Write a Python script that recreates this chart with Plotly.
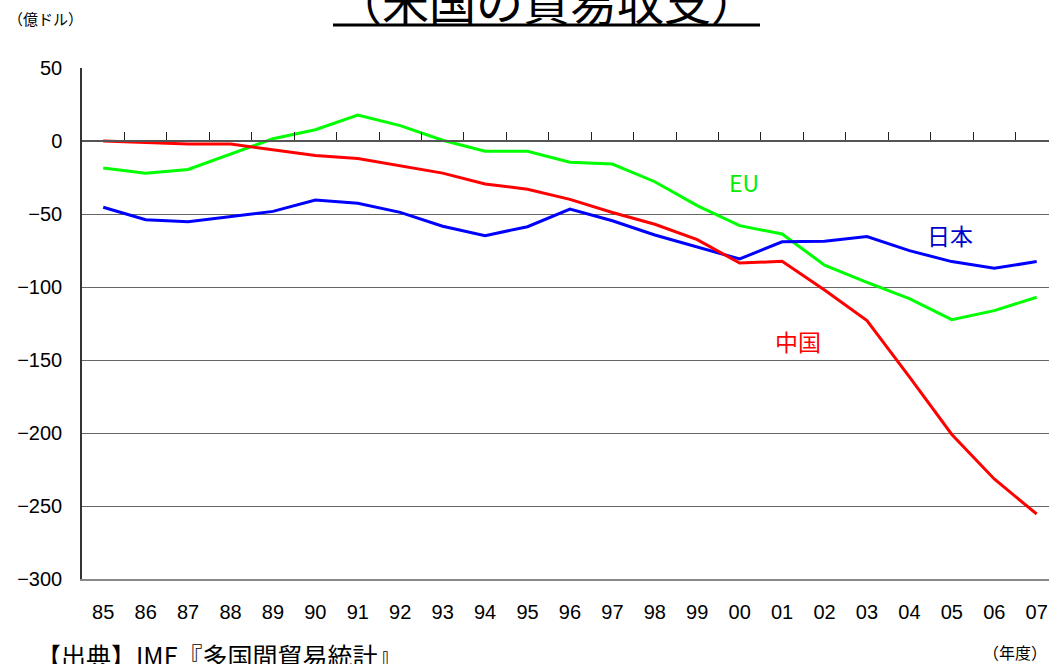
import plotly.graph_objects as go

years = ["85", "86", "87", "88", "89", "90", "91", "92", "93", "94", "95", "96",
         "97", "98", "99", "00", "01", "02", "03", "04", "05", "06", "07"]
china = [0, -1, -2, -2, -6, -10, -12, -17, -22, -29.5, -33, -40,
         -49, -57, -67.6, -83.6, -82.4, -102, -123, -161.6, -201, -231.5, -255.5]
eu = [-18.5, -22, -19.5, -9, 1.5, 7.7, 17.8, 10.5, 0.5, -7, -7, -14.6,
      -15.8, -27.9, -44.3, -58, -63.7, -85, -96.8, -108, -122.4, -116.2, -107]
japan = [-45.4, -53.9, -55.3, -51.6, -48.2, -40.4, -42.7, -48.9, -58.4, -64.8, -58.7, -46.6,
         -54.6, -64.4, -72.8, -80.8, -69, -68.7, -65.5, -75.1, -82.6, -87.2, -82.6]
y_ticks = [50, 0, -50, -100, -150, -200, -250, -300]

idx = list(range(len(years)))
boundaries = [i + 0.5 for i in idx[:-1]]

W, H = 1049, 664
L, R, T, B = 82, 0, 68, 85
pw = W - L - R
ph = H - T - B
spacing = 42.43
xr = [-0.5, -0.5 + pw / spacing]

def px_x(p):
    return (p - L) / pw

def px_y(p):
    return 1 + (T - p) / ph

fig = go.Figure()
fig.add_trace(go.Scatter(x=idx, y=eu, mode="lines", line=dict(color="#00FF00", width=3),
                         name="EU", hoverinfo="skip"))
fig.add_trace(go.Scatter(x=idx, y=japan, mode="lines", line=dict(color="#0000FF", width=3),
                         name="日本", hoverinfo="skip"))
fig.add_trace(go.Scatter(x=idx, y=china, mode="lines", line=dict(color="#FF0000", width=3),
                         name="中国", xaxis="x2", hoverinfo="skip"))

tick_font = dict(family="Liberation Sans, Arial, sans-serif", size=20, color="#000")
fig.update_layout(
    width=W, height=H, autosize=False,
    margin=dict(l=L, r=R, t=T, b=B, pad=0),
    paper_bgcolor="white", plot_bgcolor="white",
    showlegend=False,
    xaxis=dict(range=xr, tickmode="array", tickvals=idx, ticktext=years,
               showgrid=False, zeroline=False, ticks="", showline=True,
               linecolor="#888", linewidth=2, mirror=False,
               tickfont=tick_font, ticklabelstandoff=14),
    xaxis2=dict(overlaying="x", matches="x", anchor="free", position=300 / 350,
                tickmode="array", tickvals=boundaries, ticks="inside", ticklen=8,
                tickcolor="#222", tickwidth=1, showticklabels=False,
                showgrid=False, zeroline=False, showline=True,
                linecolor="#555", linewidth=1.5),
    yaxis=dict(range=[-300, 50], tickmode="array", tickvals=y_ticks,
               showgrid=True, gridcolor="#666", gridwidth=1, zeroline=False,
               showline=True, linecolor="#333", linewidth=1.5, ticks="",
               tickfont=tick_font, ticklabelstandoff=14),
)

anns = [
    dict(x=15.1, y=-28, text="EU", color="#00EE00"),
    dict(x=19.96, y=-64.4, text="日本", color="#0000CC"),
    dict(x=16.38, y=-137, text="中国", color="#FF0000"),
]
for a in anns:
    fig.add_annotation(x=a["x"], y=a["y"], xref="x", yref="y", text=a["text"],
                       showarrow=False, xanchor="center", yanchor="middle",
                       font=dict(family="Noto Sans CJK JP, sans-serif", size=23, color=a["color"]))

# Title (partly cut at top in the reference)
fig.add_annotation(x=px_x(546), y=px_y(-1), xref="paper", yref="paper",
                   text="（米国の貿易収支）", showarrow=False, xanchor="center", yanchor="middle",
                   font=dict(family="Noto Sans CJK JP, sans-serif", size=47, color="#000"))
fig.add_shape(type="line", xref="paper", yref="paper",
              x0=px_x(333), x1=px_x(760), y0=px_y(25), y1=px_y(25),
              line=dict(color="#000", width=3))

# Unit label
fig.add_annotation(x=px_x(45), y=px_y(18), xref="paper", yref="paper",
                   text="（億ドル）", showarrow=False, xanchor="center", yanchor="middle",
                   font=dict(family="Noto Sans CJK JP, sans-serif", size=15, color="#000"))
# Source
fig.add_annotation(x=px_x(34), y=px_y(655), xref="paper", yref="paper",
                   text="【出典】IMF『多国間貿易統計』", showarrow=False, xanchor="left", yanchor="middle",
                   font=dict(family="Noto Sans CJK JP, sans-serif", size=25, color="#000"))
# Year unit
fig.add_annotation(x=px_x(1049), y=px_y(652), xref="paper", yref="paper",
                   text="（年度）", showarrow=False, xanchor="right", yanchor="middle",
                   font=dict(family="Noto Sans CJK JP, sans-serif", size=16, color="#000"))

fig.write_html("out.html", config={"displayModeBar": False},
               post_script="document.body.style.margin='0';document.body.style.overflow='hidden';")
